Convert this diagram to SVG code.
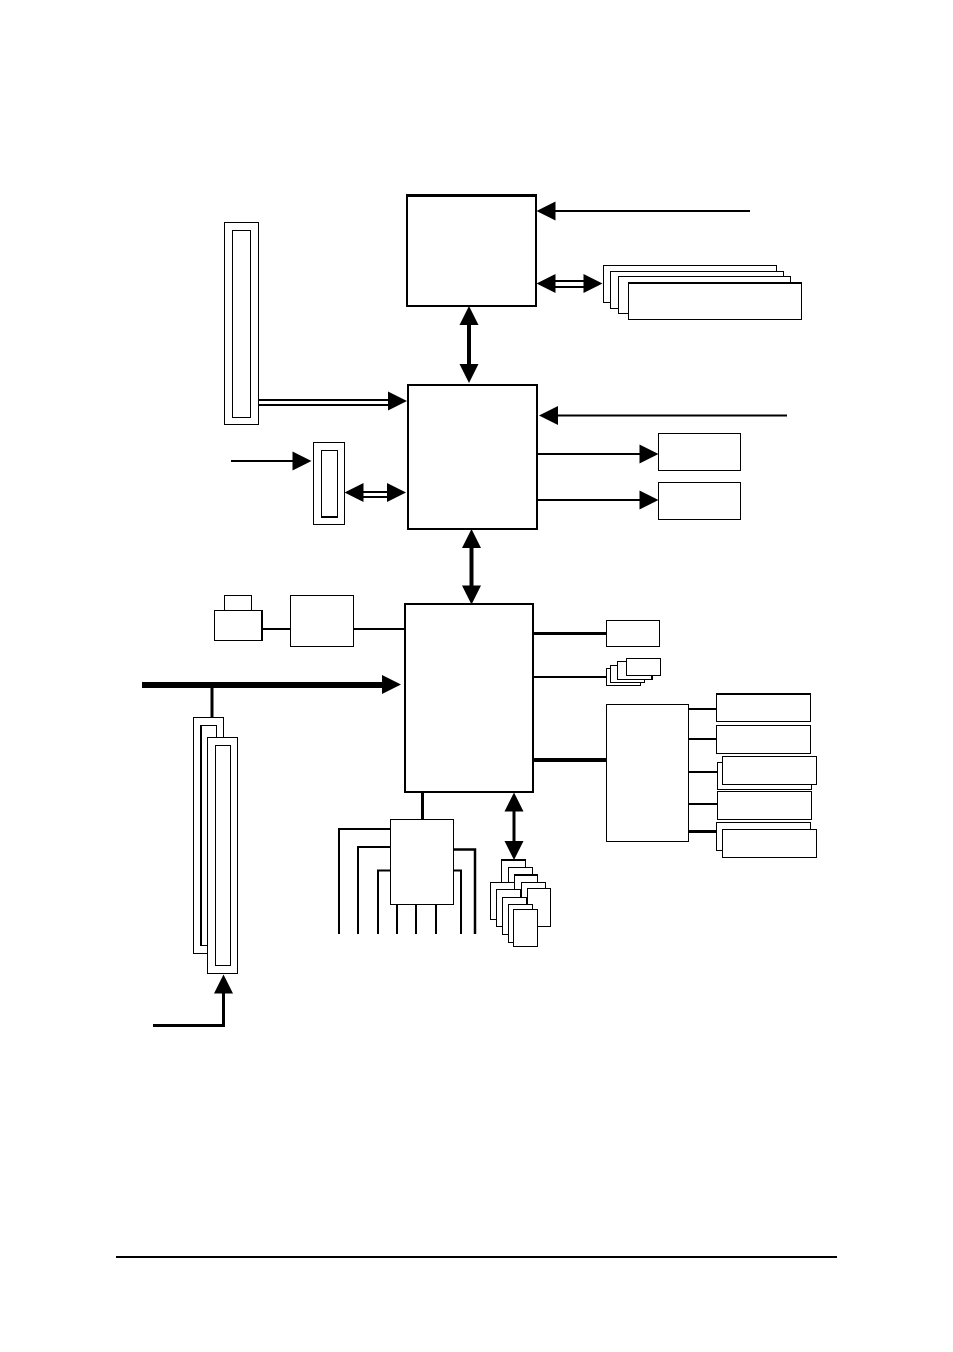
<svg xmlns="http://www.w3.org/2000/svg" width="953" height="1352" viewBox="0 0 953 1352">
  <style>
    rect { fill: #fff; stroke: #000; stroke-width: 1; shape-rendering: crispEdges; }
    .chip { stroke-width: 2.4; }
    .mid { stroke-width: 1.6; }
    line, polyline { fill: none; stroke: #000; stroke-width: 2; }
    .w3 { stroke-width: 3; }
    .w4 { stroke-width: 4; }
    .w6 { stroke-width: 6; }
  </style>
  <defs>
    <polygon id="head" points="0,0 -19,-9.5 -19,9.5" fill="#000"/>
  </defs>
  <rect x="0" y="0" width="953" height="1352" style="fill:#fff;stroke:none"/>

  <g id="connectors">
    <!-- processor links -->
    <line x1="555" y1="211" x2="750" y2="211"/>
    <use href="#head" transform="translate(536.5 211) rotate(180)"/>
    <line x1="553" y1="281" x2="585" y2="281"/>
    <line x1="553" y1="287" x2="585" y2="287"/>
    <use href="#head" transform="translate(536.5 283.500) rotate(180)"/>
    <use href="#head" transform="translate(602.500 283.500)"/>
    <line class="w4" x1="469" y1="323" x2="469" y2="365"/>
    <use href="#head" transform="translate(469 306) rotate(-90)"/>
    <use href="#head" transform="translate(469 383) rotate(90)"/>

    <!-- north bridge links -->
    <line x1="258" y1="400" x2="390" y2="400"/>
    <line x1="258" y1="405" x2="390" y2="405"/>
    <use href="#head" transform="translate(407 401)"/>
    <line x1="231" y1="461" x2="294" y2="461"/>
    <use href="#head" transform="translate(311.500 461)"/>
    <line x1="361" y1="492" x2="389" y2="492"/>
    <line x1="361" y1="497" x2="389" y2="497"/>
    <use href="#head" transform="translate(344.500 492.500) rotate(180)"/>
    <use href="#head" transform="translate(406 492.500)"/>
    <line x1="556" y1="415.500" x2="787" y2="415.500"/>
    <use href="#head" transform="translate(539 415.500) rotate(180)"/>
    <line x1="537" y1="454" x2="642" y2="454"/>
    <use href="#head" transform="translate(658.500 454)"/>
    <line x1="537" y1="500" x2="642" y2="500"/>
    <use href="#head" transform="translate(658.500 500)"/>
    <line class="w4" x1="471.500" y1="546" x2="471.500" y2="587"/>
    <use href="#head" transform="translate(471.500 529) rotate(-90)"/>
    <use href="#head" transform="translate(471.500 604.500) rotate(90)"/>

    <!-- south bridge, left side -->
    <line x1="262" y1="629" x2="291" y2="629"/>
    <line x1="353" y1="629" x2="405" y2="629"/>
    <line class="w6" x1="142" y1="685" x2="384" y2="685"/>
    <use href="#head" transform="translate(401 684.500)"/>
    <line class="w3" x1="212" y1="688" x2="212" y2="717"/>
    <polyline class="w3" points="153,1025.500 223.500,1025.500 223.500,990"/>
    <use href="#head" transform="translate(223.500 974.500) rotate(-90)"/>

    <!-- south bridge, right side -->
    <line class="w3" x1="533" y1="633.500" x2="606" y2="633.500"/>
    <line x1="533" y1="677" x2="606" y2="677"/>
    <line class="w4" x1="533" y1="760" x2="606" y2="760"/>
    <line x1="689" y1="709" x2="716" y2="709"/>
    <line x1="689" y1="739" x2="716" y2="739"/>
    <line x1="689" y1="772" x2="717" y2="772"/>
    <line x1="689" y1="804" x2="717" y2="804"/>
    <line class="w3" x1="689" y1="831.500" x2="716" y2="831.500"/>

    <!-- south bridge, bottom -->
    <line class="w3" x1="422.500" y1="792" x2="422.500" y2="820"/>
    <line class="w3" x1="514" y1="808" x2="514" y2="843"/>
    <use href="#head" transform="translate(514 792.500) rotate(-90)"/>
    <use href="#head" transform="translate(514 860) rotate(90)"/>

    <!-- fan-out below the I/O controller -->
    <polyline points="339,934 339,829 390,829"/>
    <polyline points="358,934 358,847 390,847"/>
    <polyline points="378,934 378,870.500 390,870.500"/>
    <line x1="397" y1="904" x2="397" y2="934"/>
    <line x1="416" y1="904" x2="416" y2="934"/>
    <line x1="436" y1="904" x2="436" y2="934"/>
    <polyline points="454,870.500 461,870.500 461,934"/>
    <polyline points="454,849.500 475,849.500 475,934" style="stroke-width:2.500"/>
  </g>

  <g id="cpu"><rect class="chip" x="407" y="195.500" width="129" height="110.500"/></g>
  <g id="north-bridge"><rect class="chip" x="408" y="385" width="129" height="144"/></g>
  <g id="south-bridge"><rect class="chip" x="405" y="604" width="128" height="188"/></g>

  <g id="memory-stack">
    <rect x="603.500" y="265.500" width="173" height="37"/>
    <rect class="mid" x="610.500" y="271.500" width="173" height="37"/>
    <rect x="618.500" y="276.500" width="172" height="37"/>
    <rect x="628.500" y="282.500" width="173" height="37"/>
    <line x1="628" y1="283" x2="802" y2="283"/>
  </g>

  <g id="graphics-slot">
    <rect x="224.500" y="222.500" width="34" height="202"/>
    <rect x="232.500" y="230" width="18" height="187.500"/>
  </g>
  <g id="riser-slot">
    <rect x="313.500" y="442.500" width="31" height="82"/>
    <rect class="mid" x="321.500" y="450.500" width="16" height="66.500"/>
  </g>

  <g id="output-a"><rect x="658.500" y="433.500" width="82" height="37"/></g>
  <g id="output-b"><rect x="658.500" y="482.500" width="82" height="37"/></g>

  <g id="port-connector">
    <rect x="224.500" y="595.500" width="27" height="15"/>
    <rect x="214.500" y="610.500" width="47" height="30"/>
    <line x1="262" y1="610" x2="262" y2="641"/>
  </g>
  <g id="port-controller"><rect x="290.500" y="595.500" width="63" height="51"/></g>

  <g id="pci-slot-1">
    <rect x="193.500" y="717.500" width="30" height="236"/>
    <rect class="mid" x="201" y="725.500" width="15.500" height="220"/>
  </g>
  <g id="pci-slot-2">
    <rect x="207.500" y="737.500" width="30" height="236"/>
    <rect x="215.500" y="745.500" width="15" height="220"/>
  </g>

  <g id="lan"><rect x="606.500" y="620.500" width="53" height="26"/></g>
  <g id="usb-stack">
    <rect x="606.500" y="668.500" width="34" height="17"/>
    <rect x="610.500" y="665" width="34" height="17"/>
    <rect class="mid" x="617.500" y="661.500" width="34.500" height="18"/>
    <rect x="626.500" y="658.500" width="34" height="17"/>
  </g>

  <g id="audio-codec"><rect x="606.500" y="704.500" width="82" height="137"/></g>
  <g id="codec-a"><rect x="716.500" y="693.500" width="94" height="28"/><line x1="716" y1="694" x2="811" y2="694"/></g>
  <g id="codec-b"><rect x="716.500" y="725.500" width="94" height="28"/></g>
  <g id="codec-c">
    <rect x="717.500" y="762" width="94" height="27.500"/>
    <rect x="722.500" y="756.500" width="94" height="28"/>
  </g>
  <g id="codec-d"><rect x="717.500" y="791.500" width="94" height="28"/></g>
  <g id="codec-e">
    <rect x="716.500" y="822.500" width="94" height="27.500"/>
    <rect x="722.500" y="829.500" width="94" height="28"/>
  </g>

  <g id="io-controller"><rect x="390.500" y="819.500" width="63" height="85"/></g>

  <g id="sata-stack">
    <rect class="mid" x="501.500" y="860" width="24" height="37.500"/>
    <rect x="508.500" y="867.500" width="24" height="37.500"/>
    <rect class="mid" x="514.500" y="875" width="23" height="37.500"/>
    <rect x="521.500" y="882" width="24" height="37.500"/>
    <rect x="527.500" y="888.500" width="23" height="38"/>
    <rect x="490.500" y="882.500" width="24" height="37"/>
    <rect x="496.500" y="889" width="24" height="37.500"/>
    <rect x="502.500" y="897" width="24" height="37.500"/>
    <rect x="508.500" y="904.500" width="24" height="37.500"/>
    <rect class="mid" x="513.500" y="909.500" width="24" height="37"/>
  </g>

  <line id="page-rule" x1="116" y1="1257" x2="837" y2="1257"/>
</svg>
